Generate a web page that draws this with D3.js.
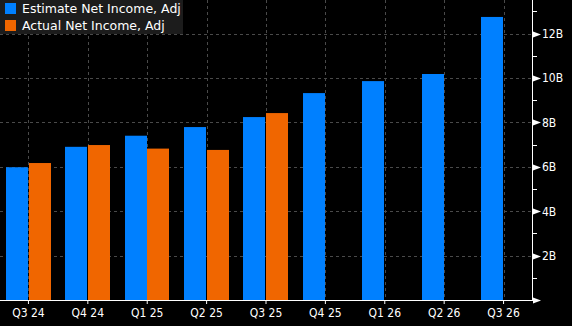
<!DOCTYPE html>
<html><head><meta charset="utf-8">
<script src="https://cdn.jsdelivr.net/npm/d3@7/dist/d3.min.js"></script>
<style>html,body{margin:0;padding:0;background:#000;}svg{display:block;}</style>
</head><body>
<svg id="c" width="572" height="326"></svg>
<script>
const categories = ["Q3 24","Q4 24","Q1 25","Q2 25","Q3 25","Q4 25","Q1 26","Q2 26","Q3 26"];
const estimate = [5.98, 6.90, 7.40, 7.79, 8.24, 9.32, 9.86, 10.18, 12.75];
const actual = [6.17, 6.98, 6.82, 6.76, 8.42, null, null, null, null];
const seriesNames = ["Estimate Net Income, Adj", "Actual Net Income, Adj"];
const seriesColors = ["#0080ff", "#f06600"];
const yTicks = [0, 2, 4, 6, 8, 10, 12];
const yMinorTicks = [1, 3, 5, 7, 9, 11, 13];

const W = 572, H = 326;
const axisX = 532, baseY = 300;
const svg = d3.select("#c");
svg.append("rect").attr("width", W).attr("height", H).attr("fill", "#000");

const x = d3.scaleBand().domain(categories).range([0, axisX]).paddingInner(0.242).paddingOuter(0.1);
const xs = d3.scaleBand().domain([0, 1]).range([0, x.bandwidth()]).paddingInner(0.022);
const y = d3.scaleLinear().domain([0, 13.5]).range([baseY, 0.3]);

const font = "'DejaVu Sans Condensed', 'DejaVu Sans', sans-serif";
const legendFont = "'DejaVu Sans', sans-serif";
const grid = svg.append("g").attr("stroke", "#4a4a4a").attr("stroke-dasharray", "3,3").attr("stroke-width", 1);
grid.selectAll("line.h").data(yTicks.filter(d => d > 0)).join("line")
  .attr("x1", 0).attr("x2", axisX)
  .attr("y1", d => Math.round(y(d)) + 0.5).attr("y2", d => Math.round(y(d)) + 0.5);
grid.selectAll("line.v").data(categories).join("line")
  .attr("x1", d => Math.round(x(d) + x.bandwidth() / 2) + 0.5)
  .attr("x2", d => Math.round(x(d) + x.bandwidth() / 2) + 0.5)
  .attr("y1", 0).attr("y2", baseY);

const rows = categories.map((c, i) => ({c, vals: [estimate[i], actual[i]]}));
const g = svg.append("g");
rows.forEach(r => {
  r.vals.forEach((v, j) => {
    if (v == null) return;
    g.append("rect")
      .attr("x", Math.round(x(r.c) + xs(j)))
      .attr("width", Math.round(xs.bandwidth()))
      .attr("y", y(v))
      .attr("height", baseY - y(v))
      .attr("fill", seriesColors[j]);
  });
});

const xAxis = d3.axisBottom(x).tickSize(4).tickPadding(4);
const gx = svg.append("g").attr("transform", `translate(0,${baseY})`).call(xAxis);
gx.select(".domain").attr("d", `M0,0.5H${axisX}`).attr("stroke", "#fff");
gx.selectAll(".tick line").attr("stroke", "#fff");
gx.selectAll(".tick text").attr("fill", "#fff").attr("font-family", font).attr("font-size", 12);

const gy = svg.append("g").attr("transform", `translate(${axisX},0)`);
gy.append("line").attr("x1", 0.5).attr("x2", 0.5).attr("y1", 0).attr("y2", baseY + 1).attr("stroke", "#fff");
gy.selectAll("path.tri").data(yTicks).join("path")
  .attr("d", d => { const yy = Math.round(y(d)) + 0.5; return `M1,${yy-3}L9,${yy}L1,${yy+3}Z`; })
  .attr("fill", "#fff");
gy.selectAll("line.minor").data(yMinorTicks).join("line")
  .attr("x1", 1).attr("x2", 5)
  .attr("y1", d => Math.round(y(d)) + 0.5).attr("y2", d => Math.round(y(d)) + 0.5)
  .attr("stroke", "#fff");
gy.selectAll("text").data(yTicks.filter(d => d > 0)).join("text")
  .attr("x", 10).attr("y", d => y(d)).attr("dy", "0.36em")
  .attr("fill", "#fff").attr("font-family", font).attr("font-size", 12)
  .text(d => d + "B");

const lg = svg.append("g");
lg.append("rect").attr("x", 0).attr("y", 0).attr("width", 183).attr("height", 34).attr("fill", "#1c1c1c");
seriesNames.forEach((n, i) => {
  lg.append("rect").attr("x", 5).attr("y", 3 + i * 17).attr("width", 11).attr("height", 11).attr("fill", seriesColors[i]);
  lg.append("text").attr("x", 22).attr("y", 13 + i * 17).attr("fill", "#fff")
    .attr("font-family", legendFont).attr("font-size", 12.5).text(n);
});
</script>
</body></html>
